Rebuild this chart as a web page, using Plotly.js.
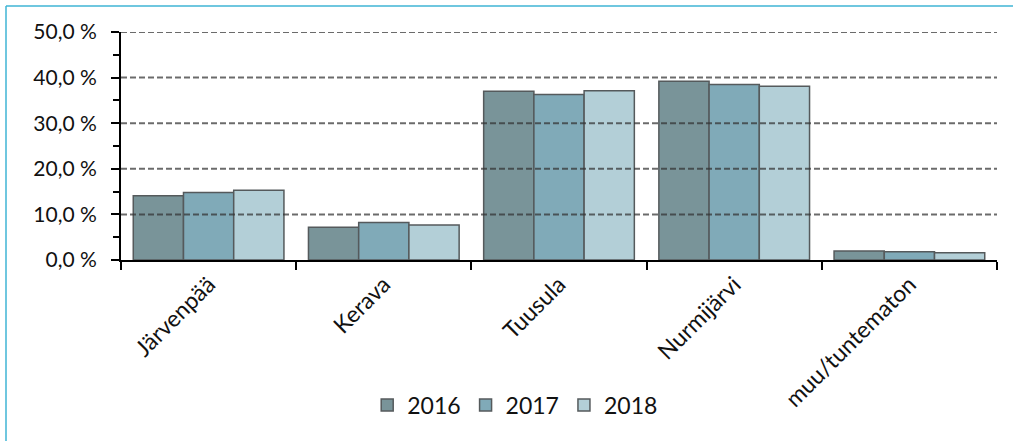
<!DOCTYPE html>
<html>
<head>
<meta charset="utf-8">
<script src="https://cdn.plot.ly/plotly-3.0.1.min.js"></script>
<style>
html, body { margin: 0; padding: 0; background: #ffffff; }
#chart { width: 1013px; height: 441px; }
</style>
</head>
<body>
<div id="chart"></div>
<script>
const categories = ["Järvenpää", "Kerava", "Tuusula", "Nurmijärvi", "muu/tuntematon"];
const years = ["2016", "2017", "2018"];
const values2016 = [14.1, 7.2, 37.0, 39.2, 2.0];
const values2017 = [14.8, 8.2, 36.3, 38.5, 1.8];
const values2018 = [15.3, 7.7, 37.1, 38.1, 1.6];
const yTicks = [0, 10, 20, 30, 40, 50];
const yTickLabels = ["0,0 %", "10,0 %", "20,0 %", "30,0 %", "40,0 %", "50,0 %"];
const gridValues = [10, 20, 30, 40, 50];

const seriesValues = [values2016, values2017, values2018];
const colors = ["#799499", "#80aab8", "#b3cfd7"];

const traces = years.map((yr, i) => ({
  type: "bar",
  name: yr,
  x: categories,
  y: seriesValues[i],
  marker: { color: colors[i], line: { color: "#555a5c", width: 1.5 } },
  hoverinfo: "x+y+name"
}));

const FONT = "Lato, 'Noto Sans', sans-serif";

const shapes = gridValues.map(v => ({
  type: "line", layer: "above",
  xref: "paper", x0: 0, x1: 1,
  yref: "y", y0: v, y1: v,
  line: { color: "rgba(50,50,50,0.72)", width: 2, dash: "6px,3px" }
}));
// outer frame: top and left edges only
shapes.push({
  type: "line", layer: "above", xref: "paper", yref: "paper",
  x0: (6 - 121) / 876, x1: (1013 - 121) / 876,
  y0: (260 - 6) / 228, y1: (260 - 6) / 228,
  line: { color: "#3fb4d4", width: 1.5 }
});
shapes.push({
  type: "line", layer: "above", xref: "paper", yref: "paper",
  x0: (6 - 121) / 876, x1: (6 - 121) / 876,
  y0: (260 - 6) / 228, y1: (260 - 441) / 228,
  line: { color: "#3fb4d4", width: 1.5 }
});

const layout = {
  width: 1013, height: 441,
  margin: { l: 121, r: 16, t: 32, b: 181, pad: 0 },
  paper_bgcolor: "#ffffff", plot_bgcolor: "#ffffff",
  font: { family: FONT, color: "#111111", size: 18 },
  barmode: "group",
  bargap: 0.14, bargroupgap: 0,
  showlegend: true,
  legend: {
    orientation: "h", x: 0.45, xanchor: "center", y: -0.636, yanchor: "middle",
    font: { family: FONT, size: 23, color: "#111111" },
    itemclick: false, itemdoubleclick: false
  },
  xaxis: {
    type: "category",
    showline: true, linecolor: "#000000", linewidth: 2,
    ticks: "outside", tickson: "boundaries", ticklen: 8, tickwidth: 1.5, tickcolor: "#000000",
    tickangle: -45,
    tickfont: { family: FONT, size: 23, color: "#111111" },
    showgrid: false, zeroline: false, fixedrange: true
  },
  yaxis: {
    range: [0, 50],
    tickmode: "array",
    tickvals: yTicks,
    ticktext: yTickLabels,
    showline: true, linecolor: "#000000", linewidth: 2,
    ticks: "outside", ticklen: 8, tickwidth: 1.5, tickcolor: "#000000",
    ticklabelstandoff: 10,
    minor: { dtick: 5, ticks: "outside", ticklen: 6, tickwidth: 1.5, tickcolor: "#000000", showgrid: false },
    tickfont: { family: FONT, size: 21, color: "#111111" },
    showgrid: false, zeroline: false, fixedrange: true
  },
  shapes: shapes
};

Plotly.newPlot("chart", traces, layout, { displayModeBar: false });
</script>
</body>
</html>
